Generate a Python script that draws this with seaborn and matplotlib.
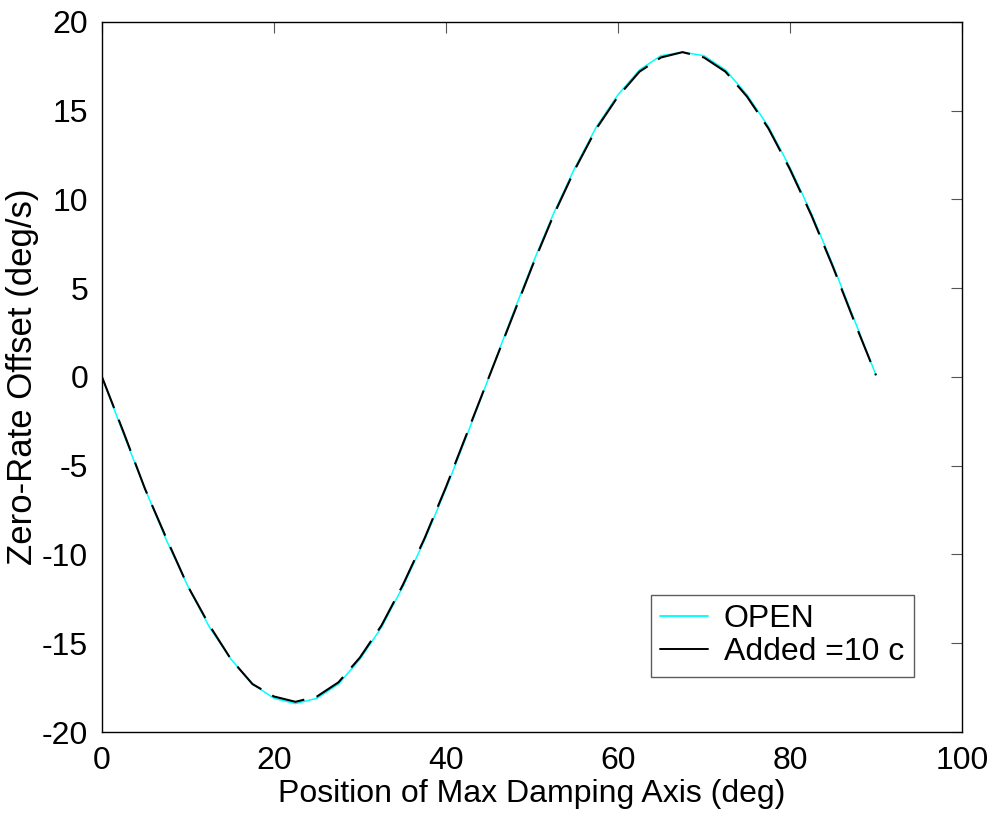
import matplotlib
matplotlib.use("Agg")
import matplotlib.pyplot as plt
import seaborn as sns
import pandas as pd

# Position of the max damping axis (deg)
position = [0, 2.5, 5, 7.5, 10, 12.5, 15, 17.5, 20, 22.5, 25, 27.5, 30, 32.5, 35,
            37.5, 40, 42.5, 45, 47.5, 50, 52.5, 55, 57.5, 60, 62.5, 65, 67.5, 70,
            72.5, 75, 77.5, 80, 82.5, 85, 87.5, 90]

# Zero-rate offset (deg/s), open loop
offset_open = [0, -3.2, -6.3, -9.2, -11.8, -14.1, -15.9, -17.3, -18.1, -18.4, -18.1,
               -17.3, -15.9, -14.1, -11.8, -9.2, -6.3, -3.2, 0.0, 3.2, 6.3, 9.2,
               11.8, 14.1, 15.9, 17.3, 18.1, 18.3, 18.1, 17.3, 15.9, 14.1, 11.8,
               9.2, 6.3, 3.2, 0.1]

# Zero-rate offset (deg/s), with added =10 c
offset_added = [0, -3.1, -6.3, -9.1, -11.8, -14.0, -15.9, -17.3, -18.0, -18.3, -18.0,
                -17.2, -15.8, -14.0, -11.7, -9.1, -6.2, -3.1, 0.0, 3.1, 6.2, 9.1,
                11.7, 14.0, 15.8, 17.2, 18.0, 18.3, 18.0, 17.2, 15.8, 14.0, 11.7,
                9.1, 6.2, 3.1, 0.1]

series_names = ["OPEN", "Added =10 c"]

df = pd.concat([
    pd.DataFrame({"pos": position, "offset": offset_open, "case": series_names[0]}),
    pd.DataFrame({"pos": position, "offset": offset_added, "case": series_names[1]}),
])

sns.set_style("white")
plt.rcParams["font.family"] = ["Liberation Sans", "DejaVu Sans"]
plt.rcParams["axes.unicode_minus"] = False
plt.rcParams["text.color"] = "black"
plt.rcParams["axes.labelcolor"] = "black"
plt.rcParams["xtick.color"] = "black"
plt.rcParams["ytick.color"] = "black"

fig = plt.figure(figsize=(9.95, 8.26), dpi=100)
ax = fig.add_axes([0.1025, 0.1138, 0.8643, 0.8596])

sns.lineplot(data=df, x="pos", y="offset", hue="case", style="case",
             palette={series_names[0]: "#00FFFF", series_names[1]: "#000000"},
             dashes={series_names[0]: "", series_names[1]: (16, 6)},
             ax=ax, legend=True, sort=False)
lines = ax.get_lines()
lines[0].set_linewidth(1.1)
lines[1].set_linewidth(1.5)

ax.set_xlim(0, 100)
ax.set_ylim(-20, 20)
ax.set_xticks(range(0, 101, 20))
ax.set_yticks(range(-20, 21, 5))
ax.tick_params(direction="in", length=8, width=0.8, color="#555555",
               top=True, right=True, labelsize=23, pad=10)
for s in ax.spines.values():
    s.set_color("black")
    s.set_linewidth(1.0)

ax.set_xlabel("Position of Max Damping Axis (deg)", fontsize=23, labelpad=2)
ax.set_ylabel("Zero-Rate Offset (deg/s)", fontsize=25, labelpad=2)

handles, labels = ax.get_legend_handles_labels()
for h in handles:
    h.set_linestyle("-")
    h.set_linewidth(1.4)
leg = ax.legend(handles, labels, loc="lower right", bbox_to_anchor=(0.944, 0.0775),
                fontsize=23, frameon=True, fancybox=False, handlelength=1.5,
                handletextpad=0.5, borderpad=0.3, labelspacing=0.1,
                borderaxespad=0)
leg.get_frame().set_edgecolor("#333333")
leg.get_frame().set_linewidth(1.0)

fig.savefig("out.png", dpi=100)
